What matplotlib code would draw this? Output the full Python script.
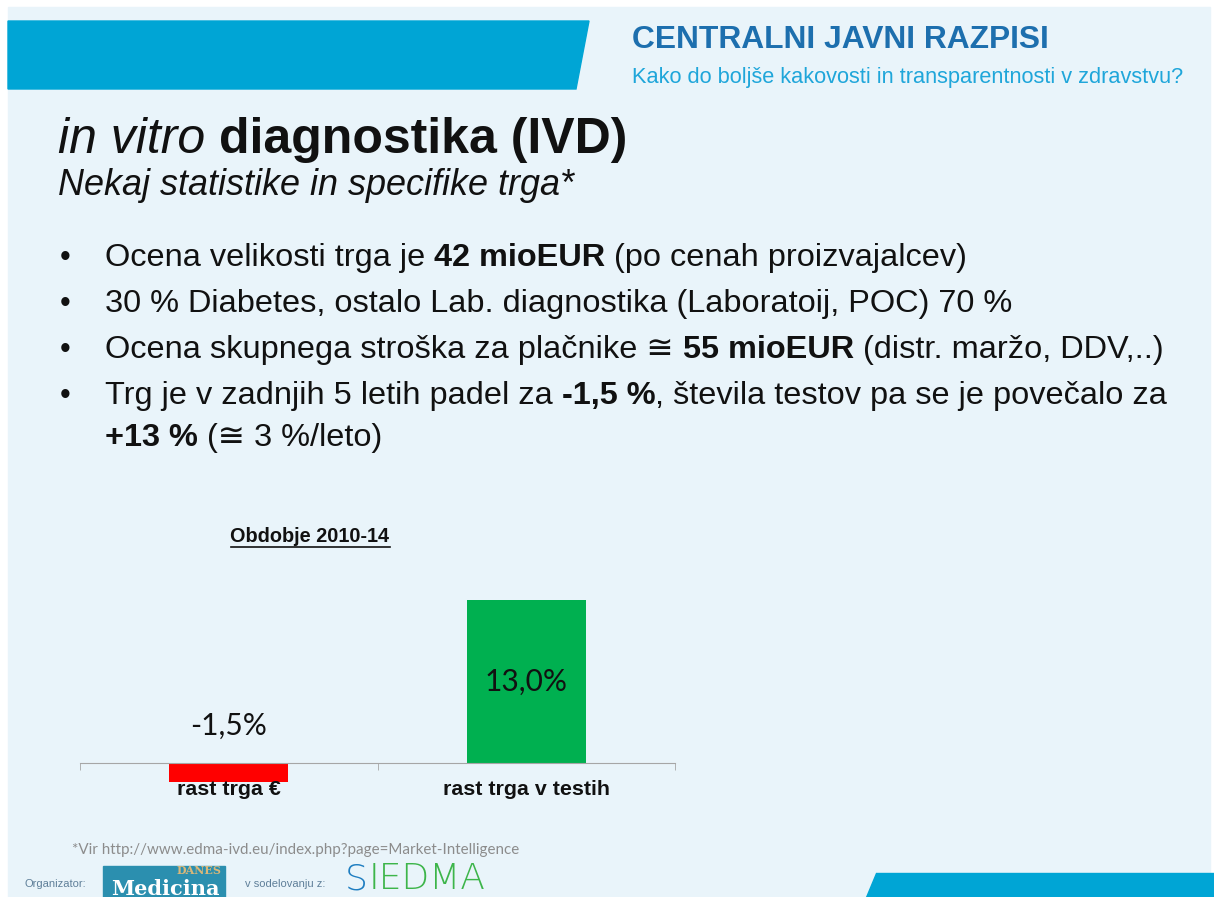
import matplotlib.pyplot as plt
from matplotlib.patches import Polygon, Rectangle
from matplotlib.lines import Line2D

# podatki
kategorije = ['rast trga €', 'rast trga v testih']
vrednosti = [-1.5, 13.0]
oznake = ['-1,5%', '13,0%']
barve = ['#FF0000', '#00B050']

W, H = 1214, 897
BG = '#E9F4FA'
MODRA = '#00A5D5'
TXT = '#111111'
ARIAL = ['Liberation Sans', 'DejaVu Sans']

fig = plt.figure(figsize=(W / 100, H / 100), dpi=100)
fig.patch.set_facecolor('white')
rend = fig.canvas.get_renderer()


def fx(px):
    return px / W


def fy(py):
    return 1 - py / H


# ozadje diapozitiva
fig.patches.append(Rectangle((fx(8), fy(H)), fx(1210 - 8), fy(7) - fy(H),
                             transform=fig.transFigure, color=BG, zorder=-2))
# modri trak zgoraj
fig.patches.append(Polygon([(fx(8), fy(21)), (fx(589), fy(21)), (fx(576), fy(89)), (fx(8), fy(89))],
                           closed=True, transform=fig.transFigure, color=MODRA, zorder=-1))
# modri trak spodaj
fig.patches.append(Polygon([(fx(876), fy(873)), (fx(1214), fy(873)), (fx(1214), fy(897)), (fx(866), fy(897))],
                           closed=True, transform=fig.transFigure, color=MODRA, zorder=-1))

fig.text(fx(632), fy(40), 'CENTRALNI JAVNI RAZPISI', fontsize=22.9, fontweight='bold',
         color='#1D6FAE', family=ARIAL, va='center')
fig.text(fx(632), fy(78), 'Kako do boljše kakovosti in transparentnosti v zdravstvu?', fontsize=15.7,
         color='#1FA6DA', family=ARIAL, va='center')


def vrstica(x, y, deli, size):
    # deli: (besedilo, debelina, slog)
    for besedilo, teza, slog in deli:
        t = fig.text(fx(x), fy(y), besedilo, fontsize=size, fontweight=teza, fontstyle=slog,
                     color=TXT, family=ARIAL, va='baseline')
        x += t.get_window_extent(rend).width
    return x


vrstica(58, 153, [('in vitro ', 'normal', 'italic'), ('diagnostika (IVD)', 'bold', 'normal')], 36)
vrstica(58, 195, [('Nekaj statistike in specifike trga*', 'normal', 'italic')], 25.9)

alineje = [
    [('Ocena velikosti trga je ', 'normal', 'normal'), ('42 mioEUR', 'bold', 'normal'),
     (' (po cenah proizvajalcev)', 'normal', 'normal')],
    [('30 % Diabetes, ostalo Lab. diagnostika (Laboratoij, POC) 70 %', 'normal', 'normal')],
    [('Ocena skupnega stroška za plačnike ≅ ', 'normal', 'normal'), ('55 mioEUR', 'bold', 'normal'),
     (' (distr. maržo, DDV,..)', 'normal', 'normal')],
    [('Trg je v zadnjih 5 letih padel za ', 'normal', 'normal'), ('-1,5 %', 'bold', 'normal'),
     (', števila testov pa se je povečalo za', 'normal', 'normal')],
]
for i, deli in enumerate(alineje):
    y = 266 + i * 46
    fig.text(fx(60), fy(y), '•', fontsize=22, color=TXT, family=ARIAL, va='baseline')
    vrstica(105, y, deli, 23.4)
vrstica(105, 446, [('+13 %', 'bold', 'normal'), (' (≅ 3 %/leto)', 'normal', 'normal')], 23.4)

# graf
ax = fig.add_axes([fx(80), fy(800), fx(595), fy(560) - fy(800)])
ax.patch.set_alpha(0)
x = list(range(len(kategorije)))
ax.bar(x, vrednosti, width=0.40, color=barve, zorder=1)
ax.set_xlim(-0.5, 1.5)
ax.set_ylim(-2.95, 16.19)
for s in ['top', 'right', 'left']:
    ax.spines[s].set_visible(False)
ax.spines['bottom'].set_position(('data', 0))
ax.spines['bottom'].set_color('#A6A6A6')
ax.set_yticks([])
ax.set_xticks(x)
ax.set_xticklabels(kategorije, fontsize=15.4, fontweight='bold', family=ARIAL, color=TXT)
ax.tick_params(axis='x', which='major', length=0, pad=12)
ax.set_xticks([-0.5, 0.5, 1.5], minor=True)
ax.tick_params(axis='x', which='minor', length=5, color='#A6A6A6', direction='out')

for xi, v, lab in zip(x, vrednosti, oznake):
    yy = v / 2 if v > 0 else 3.0
    ax.text(xi, yy, lab, ha='center', va='center', fontsize=21.5, family=['Lato', 'DejaVu Sans'],
            color=TXT)

naslov = fig.text(fx(310), fy(536), 'Obdobje 2010-14', fontsize=14.3, fontweight='bold',
                  family=ARIAL, color=TXT, ha='center', va='center')
bb = naslov.get_window_extent(rend)
fig.lines.append(Line2D([bb.x0 / W, bb.x1 / W], [(bb.y0 - 1) / H, (bb.y0 - 1) / H],
                        transform=fig.transFigure, color=TXT, lw=1.2))

# noga
fig.text(fx(72), fy(850), '*Vir http://www.edma-ivd.eu/index.php?page=Market-Intelligence', fontsize=10.9,
         color='#8C8C8C', family=['Lato', 'DejaVu Sans'], va='center')
fig.text(fx(25), fy(884), 'Organizator:', fontsize=8, color='#5F7F99', family=ARIAL, va='center')
fig.patches.append(Rectangle((fx(103), fy(897)), fx(122), fy(866) - fy(897),
                             transform=fig.transFigure, color='#2B8FAF', zorder=-1))
fig.text(fx(221), fy(874), 'DANES', fontsize=8, fontweight='bold', color='#D9B779',
         family='DejaVu Serif', ha='right', va='baseline')
fig.text(fx(165), fy(895), 'Medicina', fontsize=15, fontweight='bold', color='white',
         family='DejaVu Serif', ha='center', va='baseline')
fig.text(fx(245), fy(884), 'v sodelovanju z:', fontsize=8, color='#5F7F99', family=ARIAL, va='center')
t = fig.text(fx(345), fy(889), 'S', fontsize=26, fontweight='light', color='#1F7EC1',
             family='DejaVu Sans', va='baseline')
xs = 345 + t.get_window_extent(rend).width + 1
fig.text(fx(xs), fy(889), 'IEDMA', fontsize=26, fontweight='light', color='#3DB54A',
         family='DejaVu Sans', va='baseline')

fig.savefig('out.png', dpi=100, facecolor=fig.get_facecolor())
